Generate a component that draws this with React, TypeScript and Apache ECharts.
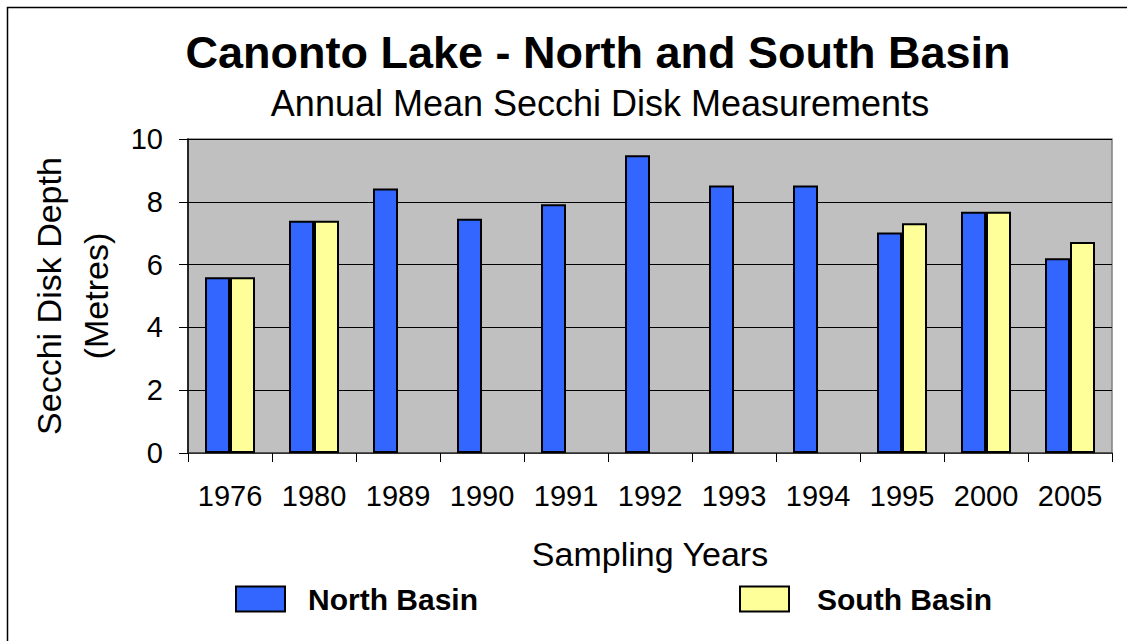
import React, { useEffect, useRef } from "react";
import * as echarts from "echarts";

const categories = ["1976", "1980", "1989", "1990", "1991", "1992", "1993", "1994", "1995", "2000", "2005"];
const northBasin = [5.6, 7.4, 8.42, 7.46, 7.92, 9.48, 8.52, 8.52, 7.02, 7.68, 6.2];
const southBasin: (number | null)[] = [5.6, 7.4, null, null, null, null, null, null, 7.32, 7.68, 6.72];
const yTicks = { min: 0, max: 10, interval: 2 };

const FONT = "'Liberation Sans', Arial, sans-serif";

export default function App() {
  const ref = useRef<HTMLDivElement>(null);
  useEffect(() => {
    if (!ref.current) return;
    const chart = echarts.init(ref.current, undefined, { renderer: "svg" });
    chart.setOption({
      animation: false,
      backgroundColor: "#ffffff",
      textStyle: { fontFamily: FONT },
      graphic: [
        {
          type: "rect",
          shape: { x: 7.5, y: 7.5, width: 1300, height: 800 },
          style: { fill: "none", stroke: "#000", lineWidth: 1.5 },
          silent: true,
          z: -10,
        },
        {
          type: "text",
          x: 598,
          y: 52,
          style: {
            text: "Canonto Lake - North and South Basin",
            font: `bold 45px ${FONT}`,
            fill: "#000",
            textAlign: "center",
            textVerticalAlign: "middle",
          },
        },
        {
          type: "text",
          x: 600,
          y: 103,
          style: {
            text: "Annual Mean Secchi Disk Measurements",
            font: `36px ${FONT}`,
            fill: "#000",
            textAlign: "center",
            textVerticalAlign: "middle",
          },
        },
      ],
      grid: {
        left: 188,
        right: 15,
        top: 139,
        bottom: 188,
        show: true,
        backgroundColor: "#C0C0C0",
        borderColor: "#808080",
        borderWidth: 1.5,
      },
      legend: {
        data: [
          { name: "North Basin", textStyle: { padding: [0, 0, 0, 18] } },
          { name: "South Basin", textStyle: { padding: [0, 0, 0, 23] } },
        ],
        left: 230,
        top: 579,
        itemWidth: 49,
        itemHeight: 25,
        itemGap: 261,
        icon: "rect",
        textStyle: {
          fontFamily: FONT,
          fontSize: 30,
          fontWeight: "bold",
          color: "#000",
        },
      },
      xAxis: {
        type: "category",
        data: categories,
        name: "Sampling Years",
        nameLocation: "middle",
        nameGap: 84,
        nameTextStyle: { fontFamily: FONT, fontSize: 34, color: "#000" },
        axisLine: { show: true, lineStyle: { color: "#404040", width: 1.5 } },
        axisTick: { show: true, length: 9, lineStyle: { color: "#000" } },
        axisLabel: { fontFamily: FONT, fontSize: 29, color: "#000", margin: 28, interval: 0 },
      },
      yAxis: {
        type: "value",
        min: yTicks.min,
        max: yTicks.max,
        interval: yTicks.interval,
        name: "Secchi Disk Depth\n(Metres)",
        nameLocation: "middle",
        nameGap: 67,
        nameRotate: 90,
        nameTextStyle: { fontFamily: FONT, fontSize: 34, color: "#000", lineHeight: 47 },
        axisLine: { show: true, lineStyle: { color: "#000", width: 1.5 } },
        axisTick: { show: true, length: 9, lineStyle: { color: "#000" } },
        axisLabel: { fontFamily: FONT, fontSize: 29, color: "#000", margin: 25 },
        splitLine: { show: true, lineStyle: { color: "#000", width: 1 } },
      },
      series: [
        {
          name: "North Basin",
          type: "bar",
          data: northBasin,
          barWidth: 25,
          barGap: "0%",
          itemStyle: { color: "#3366FF", borderColor: "#000", borderWidth: 2 },
        },
        {
          name: "South Basin",
          type: "bar",
          data: southBasin,
          barWidth: 25,
          barGap: "0%",
          itemStyle: { color: "#FFFF99", borderColor: "#000", borderWidth: 2 },
        },
      ],
    });
    return () => chart.dispose();
  }, []);
  return <div ref={ref} style={{ width: 1127, height: 641, position: "absolute", left: 0, top: 0 }} />;
}
